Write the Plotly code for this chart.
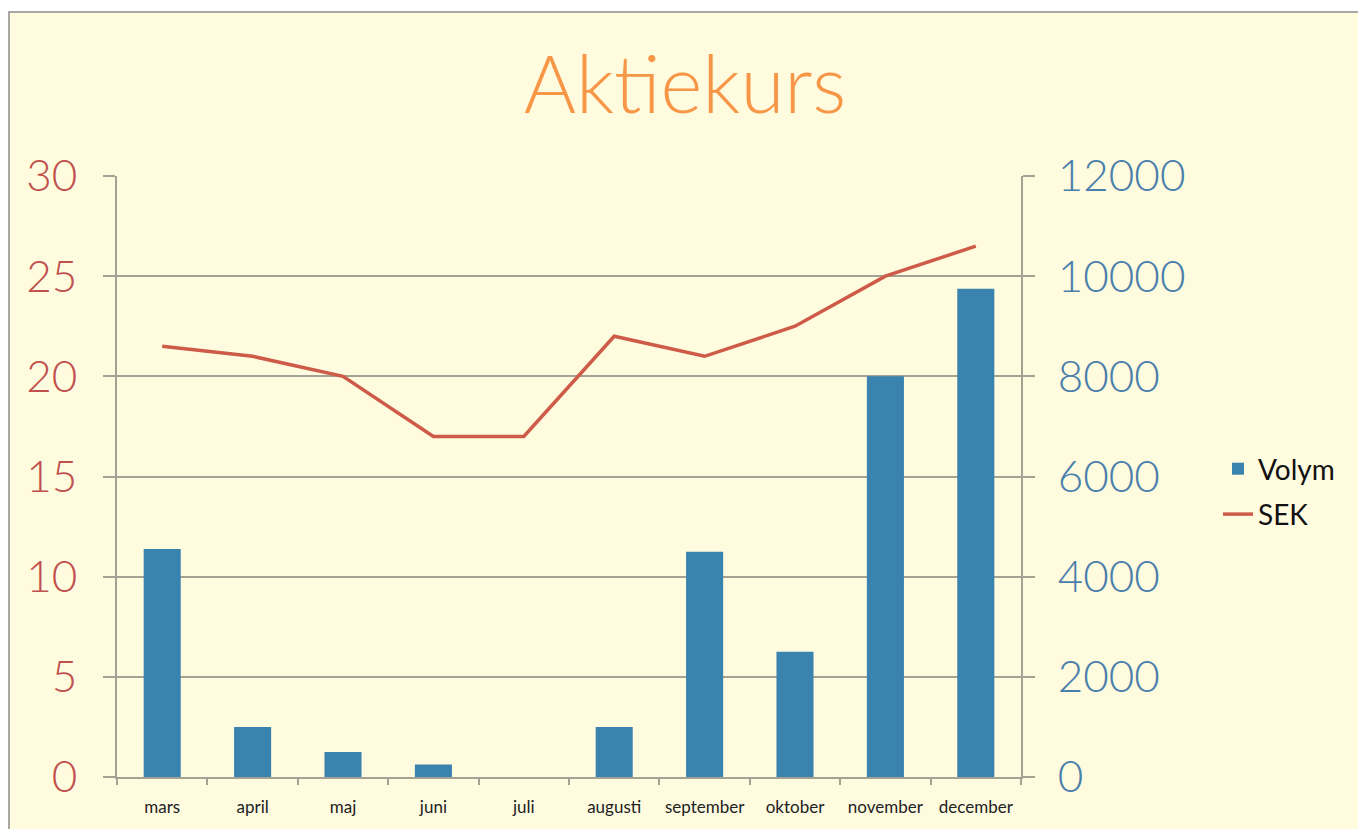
import plotly.graph_objects as go

months = ["mars", "april", "maj", "juni", "juli", "augusti", "september", "oktober", "november", "december"]
volym = [4550, 1000, 500, 250, 0, 1000, 4500, 2500, 8000, 9750]
sek = [21.5, 21, 20, 17, 17, 22, 21, 22.5, 25, 26.5]

FONT = "Lato"
GRID = "#A4A293"

fig = go.Figure()
fig.add_trace(go.Bar(x=months, y=volym, name="Volym", yaxis="y2", legendgroup="v",
                     marker=dict(color="#3B83AF", line=dict(width=0)), width=0.41))
fig.add_trace(go.Scatter(x=months, y=sek, name="SEK", mode="lines", yaxis="y", legendgroup="s",
                         line=dict(color="#CD5B48", width=3.5)))

# page body has an 8px margin; work in screen pixels and subtract it
OFF = 8
W, H = 1366 - OFF, 829 - OFF
l, t = 117 - OFF, 176 - OFF
r = W - (1021 - OFF)
b = H - (777 - OFF)
pw, ph = W - l - r, H - t - b

def px2x(px):
    return (px - OFF - l) / pw

def px2y(py):
    return (H - b - (py - OFF)) / ph

fig.add_shape(type="rect", xref="paper", yref="paper",
              x0=px2x(9), x1=px2x(1362), y0=px2y(850), y1=px2y(12),
              fillcolor="#FEFBDF", line=dict(color="#A8A8A4", width=2), layer="below")

fig.update_layout(
    width=W, height=H,
    margin=dict(l=l, r=r, t=t, b=b, autoexpand=False),
    paper_bgcolor="white",
    plot_bgcolor="rgba(0,0,0,0)",
    title=dict(text="Aktiekurs", x=px2x(685), xref="paper", xanchor="center",
               y=(H - (85 - OFF)) / H, yanchor="middle", automargin=False,
               font=dict(family=FONT, size=80, color="#F79646", weight=300)),
    xaxis=dict(showline=True, linecolor=GRID, linewidth=2, ticks="outside",
               tickson="boundaries", ticklen=6, tickcolor=GRID, tickwidth=1.5,
               tickfont=dict(family=FONT, size=17, color="#222222"), tickangle=0,
               ticklabelstandoff=14, showgrid=False, automargin=False),
    yaxis=dict(range=[0, 30], dtick=5, showline=True, linecolor=GRID, linewidth=2,
               showgrid=True, gridcolor=GRID, gridwidth=1.5, zeroline=False,
               ticks="outside", ticklen=12, tickcolor=GRID, tickwidth=1.5,
               tickfont=dict(family=FONT, size=44, color="#C0504D", weight=300),
               ticklabelstandoff=17, automargin=False),
    yaxis2=dict(range=[0, 12000], dtick=2000, overlaying="y", side="right",
                tickformat="d",
                showline=True, linecolor=GRID, linewidth=2, showgrid=False,
                zeroline=False, ticks="outside", ticklen=12, tickcolor=GRID, tickwidth=1.5,
                tickfont=dict(family=FONT, size=44, color="#4A7EAB", weight=300),
                ticklabelstandoff=14, automargin=False),
    legend=dict(x=px2x(1218), y=px2y(444), xanchor="left", yanchor="top",
                xref="paper", yref="paper",
                font=dict(family=FONT, size=28, color="#111111"),
                bgcolor="rgba(0,0,0,0)", tracegroupgap=6),
    bargap=0.59,
    showlegend=True,
)

fig.write_html("out.html")
